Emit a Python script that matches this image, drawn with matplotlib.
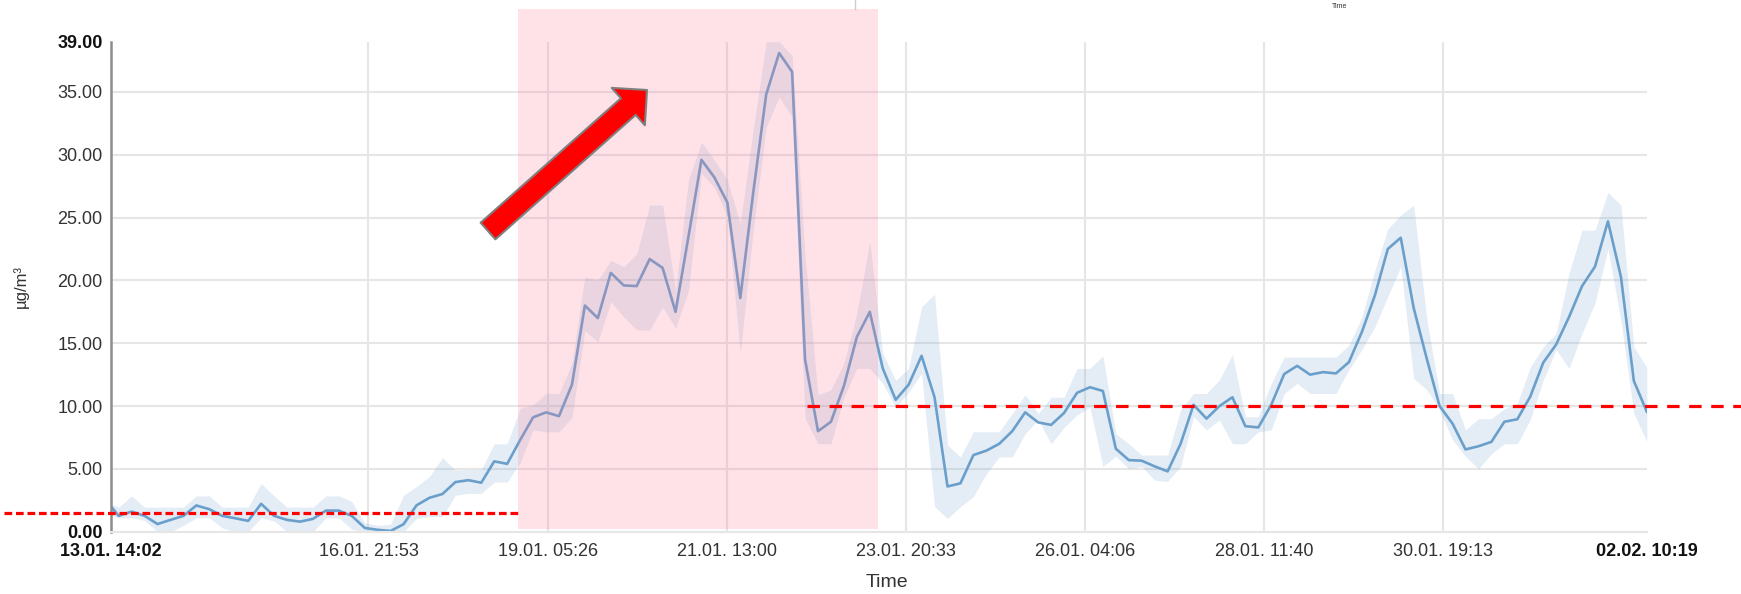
import numpy as np
import pandas as pd
import matplotlib
matplotlib.use("Agg")
import matplotlib.pyplot as plt
from matplotlib.patches import Rectangle, FancyArrowPatch, ArrowStyle
from matplotlib.lines import Line2D
from matplotlib.transforms import blended_transform_factory

plt.rcParams['font.family'] = ['Liberation Sans', 'DejaVu Sans']

# =========================
# data (µg/m³, ~4h values)
# =========================

start_time = "2021-01-13 14:02"
first_bin = "2021-01-13 16:25"
end_time = "2021-02-02 10:19"

pm_mean = [
    2.0,
    1.26, 1.60, 1.26, 0.61, 0.94, 1.26, 2.09, 1.79, 1.26, 1.07,
    0.86, 2.22, 1.26, 0.94, 0.80, 1.02, 1.68, 1.68, 1.26, 0.30,
    0.15, 0.06, 0.60, 2.10, 2.70, 3.00, 3.95, 4.10, 3.90, 5.60,
    5.40, 7.30, 9.10, 9.50, 9.20, 11.7, 18.0, 17.0, 20.6, 19.6,
    19.55, 21.7, 21.0, 17.5, 23.5, 29.6, 28.2, 26.2, 18.6, 27.0,
    34.8, 38.1, 36.6, 13.7, 8.0, 8.75, 11.6, 15.5, 17.5, 13.0,
    10.5, 11.7, 14.0, 10.7, 3.6, 3.85, 6.1, 6.45, 7.0, 8.0,
    9.5, 8.7, 8.5, 9.45, 11.05, 11.5, 11.2, 6.6, 5.7, 5.65,
    5.2, 4.8, 7.0, 10.1, 9.0, 10.0, 10.7, 8.4, 8.3, 10.1,
    12.55, 13.2, 12.5, 12.7, 12.6, 13.5, 15.9, 18.8, 22.5, 23.4,
    17.8, 13.8, 10.0, 8.6, 6.55, 6.8, 7.15, 8.75, 8.95, 10.75,
    13.45, 14.9, 17.1, 19.55, 21.1, 24.7, 20.3, 12.0, 9.55,
]

pm_low = [
    1.3,
    1.1, 1.1, 0.9, 0.0, 0.0, 0.5, 1.1, 1.1, 0.3, 0.0,
    0.0, 1.1, 0.85, 0.0, 0.0, 0.0, 1.1, 1.1, 0.2, 0.0,
    0.0, 0.0, 0.0, 1.05, 1.2, 1.2, 2.9, 3.05, 3.05, 3.95,
    3.95, 5.5, 8.1, 7.95, 7.95, 9.1, 16.0, 15.1, 18.3, 17.1,
    16.05, 16.05, 17.9, 16.2, 19.2, 28.5, 27.4, 25.1, 14.2, 24.0,
    32.2, 34.6, 33.0, 9.0, 7.0, 7.0, 10.7, 13.0, 13.0, 11.8,
    9.9, 11.1, 12.6, 2.0, 1.05, 2.0, 2.8, 4.6, 5.95, 5.95,
    7.8, 8.9, 7.0, 8.3, 9.3, 9.9, 5.2, 6.0, 5.0, 5.2,
    4.1, 4.0, 5.2, 9.15, 8.1, 8.9, 7.0, 7.0, 7.95, 8.1,
    11.0, 11.8, 11.0, 11.0, 11.0, 12.9, 14.5, 16.3, 18.7, 21.1,
    12.2, 11.3, 9.7, 7.3, 6.0, 5.0, 6.2, 7.0, 7.0, 8.9,
    12.05, 14.5, 13.0, 15.8, 18.2, 22.5, 16.8, 9.4, 7.2,
]

pm_high = [
    2.2,
    1.95, 2.85, 1.95, 1.95, 1.95, 1.95, 2.85, 2.85, 1.95, 1.95,
    1.95, 3.85, 2.85, 1.95, 1.95, 1.95, 2.85, 2.85, 2.4, 0.7,
    0.5, 0.6, 2.9, 3.6, 4.4, 5.9, 4.9, 4.95, 4.95, 7.0,
    7.0, 9.8, 10.1, 11.0, 11.0, 13.4, 20.3, 20.0, 21.6, 21.1,
    22.1, 26.0, 26.0, 19.2, 28.0, 31.0, 29.6, 28.0, 24.5, 32.0,
    39.0, 39.0, 37.9, 22.0, 10.9, 11.3, 13.4, 17.4, 23.1, 14.2,
    12.05, 13.0, 17.9, 18.9, 6.9, 5.95, 7.95, 7.95, 7.95, 9.4,
    10.9, 9.4, 10.7, 10.7, 13.0, 13.0, 14.0, 7.8, 7.0, 6.1,
    6.1, 6.1, 9.7, 11.0, 11.0, 12.1, 14.1, 9.15, 9.15, 11.8,
    13.9, 13.9, 13.9, 13.9, 13.9, 14.85, 17.1, 20.8, 24.1, 25.2,
    26.0, 17.0, 11.0, 11.0, 8.1, 9.0, 9.0, 9.8, 10.2, 13.1,
    14.7, 15.8, 20.6, 24.0, 24.0, 27.0, 26.0, 14.7, 13.1,
]

tick_times = [
    "2021-01-13 14:02", "2021-01-16 21:53", "2021-01-19 05:26",
    "2021-01-21 13:00", "2021-01-23 20:33", "2021-01-26 04:06",
    "2021-01-28 11:40", "2021-01-30 19:13", "2021-02-02 10:19",
]
tick_labels = [
    "13.01. 14:02", "16.01. 21:53", "19.01. 05:26", "21.01. 13:00",
    "23.01. 20:33", "26.01. 04:06", "28.01. 11:40", "30.01. 19:13",
    "02.02. 10:19",
]
y_ticks = [0, 5, 10, 15, 20, 25, 30, 35, 39]

limit_before = 1.5
limit_after = 10.0

line_color = "#6a9fcc"
grid_color = "#e6e6e6"

# =========================
# plot
# =========================

times = pd.DatetimeIndex([pd.Timestamp(start_time)]).append(
    pd.date_range(first_bin, end_time, periods=len(pm_mean) - 1))
tick_times = pd.to_datetime(tick_times)

W, H = 1741, 594
fig = plt.figure(figsize=(W / 100, H / 100), dpi=100)
ax = fig.add_axes([111 / W, 62.3 / H, 1535.8 / W, 490 / H])

for v in y_ticks[:-1]:
    ax.axhline(v, color=grid_color, lw=1.5, zorder=0)
for t in tick_times[1:-1]:
    ax.axvline(t, color=grid_color, lw=1.5, zorder=0)

ax.fill_between(times, pm_low, pm_high, color=line_color, alpha=0.18, lw=0)
ax.plot(times, pm_mean, color=line_color, lw=1.9)

ax.set_xlim(tick_times[0], tick_times[-1])
ax.set_ylim(0, 39)

ax.set_xticks(tick_times)
ax.set_xticklabels(tick_labels)
ax.set_yticks(y_ticks)
ax.set_yticklabels(["%.2f" % v for v in y_ticks])

ax.tick_params(length=0, labelsize=13, labelcolor="#333333")
ax.tick_params(axis="x", pad=8)
ax.tick_params(axis="y", pad=6)
for lbl in [ax.get_xticklabels()[0], ax.get_xticklabels()[-1],
            ax.get_yticklabels()[0], ax.get_yticklabels()[-1]]:
    lbl.set_fontweight("bold")
    lbl.set_color("#111111")

ax.spines["top"].set_visible(False)
ax.spines["right"].set_visible(False)
ax.spines["left"].set_color("#8c8c8c")
ax.spines["left"].set_linewidth(1.8)
ax.spines["bottom"].set_color(grid_color)
ax.spines["bottom"].set_linewidth(1.5)

ax.set_ylabel("µg/m³", fontsize=12, color="#333333")
ax.yaxis.set_label_coords(-0.0535, 0.5)
ax.set_xlabel("Time", fontsize=14, color="#333333")
ax.xaxis.set_label_coords(0.505, -0.086)

# pink highlight box (on top of the chart)
fig.add_artist(Rectangle((518 / W, 65 / H), 360 / W, 520 / H,
                         transform=fig.transFigure, facecolor=(1.0, 0.47, 0.59),
                         alpha=0.21, lw=0, zorder=5))

# red dashed reference levels
trans = blended_transform_factory(fig.transFigure, ax.transData)
fig.add_artist(Line2D([4 / W, 518 / W], [limit_before] * 2, transform=trans,
                      color="red", lw=2.3, dashes=(2.4, 1.2), zorder=6))
fig.add_artist(Line2D([807 / W, 1.0], [limit_after] * 2, transform=trans,
                      color="red", lw=2.3, dashes=(3.9, 3.0), zorder=6))

# red arrow
arrow = FancyArrowPatch(
    (4.88, 3.63), (6.47, 5.04),
    transform=fig.dpi_scale_trans,
    arrowstyle=ArrowStyle.Simple(head_length=18, head_width=36, tail_width=16),
    mutation_scale=1, shrinkA=0, shrinkB=0,
    facecolor="red", edgecolor="#7f7f7f", lw=1.5, zorder=7,
)
fig.add_artist(arrow)

# remnants of the chart above (cropped screenshot)
fig.add_artist(Line2D([855 / W, 855 / W], [1.0, 1 - 9 / H],
                      transform=fig.transFigure, color="#cfcfcf", lw=1))
fig.text(1340 / W, 1 - 7 / H, "Time", fontsize=5, ha="center", va="center",
         color="#333333")

fig.savefig("out.png", dpi=100)
